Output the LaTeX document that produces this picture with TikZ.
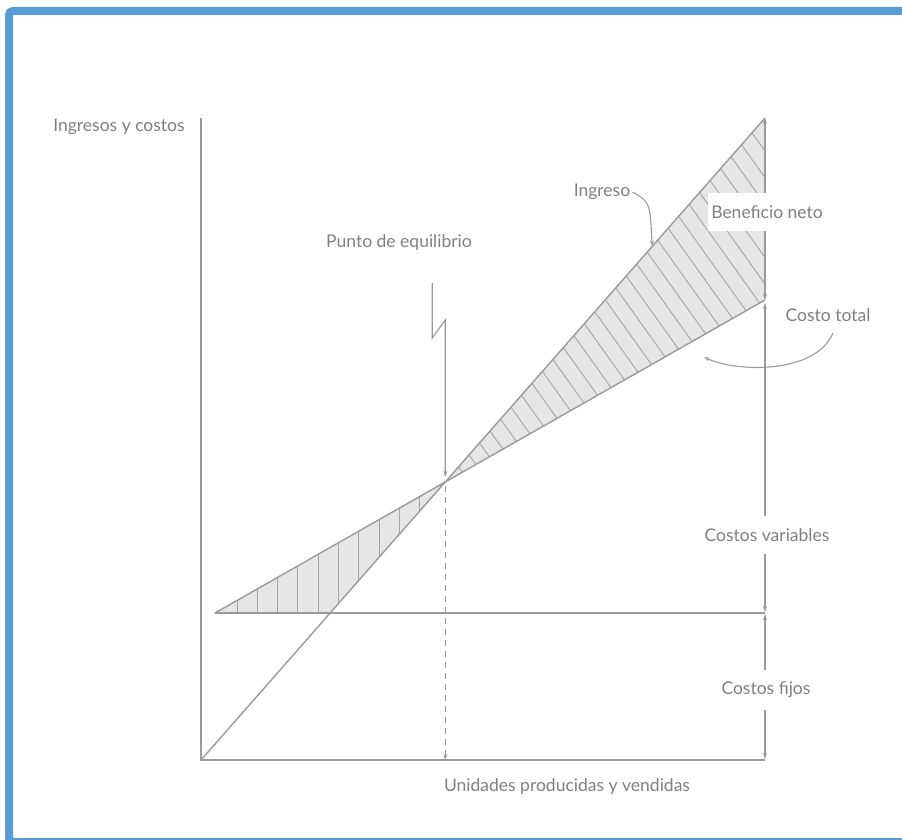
\documentclass[tikz,border=0pt]{standalone}
\usepackage{fontspec}
\setmainfont{Lato}
\usetikzlibrary{arrows.meta,calc}
\definecolor{framebl}{HTML}{5B9BD5}
\definecolor{ink}{HTML}{9A9A9A}
\definecolor{txt}{HTML}{808080}
\definecolor{areagray}{HTML}{E6E6E6}
\tikzset{
  curve/.style={draw=ink, line width=1.4pt},
  hatch/.style={draw=ink!90, line width=0.9pt},
  lbl/.style={text=txt, font=\fontsize{17.5}{19}\selectfont, inner sep=2pt},
  dimlbl/.style={lbl, fill=white, inner xsep=3pt, inner ysep=12pt},
  tip/.style={-{Stealth[length=6pt,width=4pt]}},
  dim/.style={draw=ink, line width=1.1pt, {Stealth[length=6pt,width=4pt]}-{Stealth[length=6pt,width=4pt]}},
}
\begin{document}
\begin{tikzpicture}[x=1pt,y=-1pt]
\useasboundingbox (0,0) rectangle (902,840);
\begin{scope}
\clip (0,0) rectangle (902,840);
% frame
\draw[framebl, line width=8pt, rounded corners=4pt] (9,11) rectangle (912,842);

% key points
\coordinate (O) at (201,760);
\coordinate (Ytop) at (201,118);
\coordinate (Xend) at (765,760);
\coordinate (F0) at (215,613);
\coordinate (F1) at (765,613);
\coordinate (Rtop) at (765,118);
\coordinate (Ctop) at (765,300);
\path (intersection of O--Rtop and F0--Ctop) coordinate (BE);
\path (intersection of O--Rtop and F0--F1) coordinate (RF);

% loss region
\fill[areagray] (F0) -- (BE) -- (RF) -- cycle;
\begin{scope}
\clip (F0) -- (BE) -- (RF) -- cycle;
\foreach \i in {0,...,12} \draw[hatch] (237+20.3*\i,450) -- ++(0,200);
\end{scope}

% profit region
\fill[areagray] (BE) -- (Rtop) -- (Ctop) -- cycle;
\begin{scope}
\clip (BE) -- (Rtop) -- (Ctop) -- cycle;
\foreach \i in {0,...,34} \draw[hatch] (130+19*\i,60) -- ++(300,420);
\end{scope}

% axes and lines
\draw[curve] (Ytop) -- (O) -- (Xend);
\draw[curve] (F0) -- (F1);
\draw[curve] (F0) -- (Ctop);
\draw[curve] (O) -- (Rtop);

% break-even marker
\coordinate (H283) at (0,283);
\coordinate (H320) at (0,320);
\coordinate (Z0) at ($(BE |- H283) + (-13,0)$);
\coordinate (Z1) at ($(Z0) + (0,55)$);
\coordinate (Z2) at (BE |- H320);
\draw[ink, line width=1.1pt, tip] (Z0) -- (Z1) -- (Z2) -- ($(BE)+(0,-5)$);
\draw[ink, line width=1.1pt, dash pattern=on 6pt off 5pt, tip] ($(BE)+(0,4)$) -- (BE |- O);

% dimension lines
\draw[dim] (Rtop) -- (Ctop);
\draw[dim] ($(Ctop)+(0,3)$) -- ($(F1)+(0,-1)$);
\draw[dim] ($(F1)+(0,1)$) -- ($(Xend)+(0,-1)$);

% labels
\node[lbl] (ly) at (119,127) {Ingresos y costos};
\node[lbl] (lx) at (567,787) {Unidades producidas y vendidas};
\node[lbl] (lbe) at (399,243) {Punto de equilibrio};
\node[lbl] (ling) at (602,192) {Ingreso};
\node[dimlbl] (lben) at (767,212) {Beneficio neto};
\node[dimlbl] (lvar) at (767,535) {Costos variables};
\node[dimlbl] (lfij) at (766,690) {Costos fijos};
\node[lbl] (lct) at (828,315) {Costo total};

% pointers
\coordinate (ingtip) at ($(O)!0.80!(Rtop)$);
\draw[ink, line width=1.1pt, tip] (ling.east) .. controls (650,202) .. (ingtip);
\draw[ink, line width=1.1pt, tip] (833,333) .. controls (815,375) and (735,372) .. (704,357);
\end{scope}
\end{tikzpicture}
\end{document}
